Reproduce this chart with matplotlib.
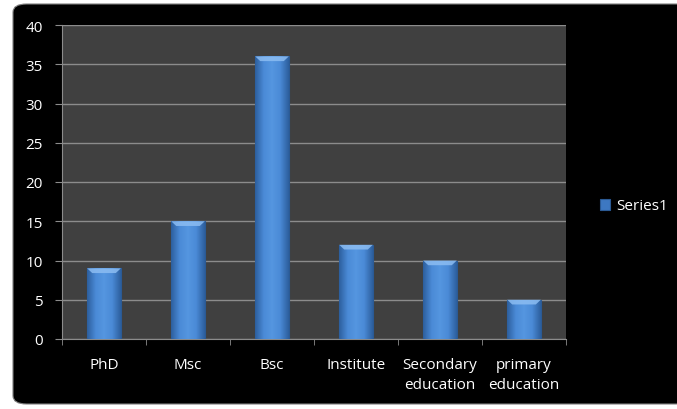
import numpy as np
import matplotlib
matplotlib.use("Agg")
import matplotlib.pyplot as plt
from matplotlib.patches import FancyBboxPatch, Polygon
from matplotlib.colors import LinearSegmentedColormap

# data
categories = ["PhD", "Msc", "Bsc", "Institute", "Secondary\neducation", "primary\neducation"]
values = [9, 15, 36, 12, 10, 5]
series_name = "Series1"

plt.rcParams['font.family'] = ['Open Sans', 'DejaVu Sans']

fig = plt.figure(figsize=(6.77, 4.10), dpi=100)
fig.patch.set_facecolor('white')

# black rounded chart frame
frame = FancyBboxPatch((13 / 677, 5 / 410), 1.0, 400 / 410,
                       boxstyle="round,pad=0,rounding_size=0.02",
                       transform=fig.transFigure, facecolor='black',
                       edgecolor='#7f7f7f', linewidth=0.8, zorder=-5)
fig.patches.append(frame)

ax = fig.add_axes([62 / 677, 70 / 410, 504 / 677, 314 / 410])
ax.set_zorder(1)
ax.set_facecolor('#404040')

x = np.arange(len(categories))
bars = ax.bar(x, values, width=0.4, color='#3d78c2', edgecolor='#2b5a94',
              linewidth=0.8, zorder=3, label=series_name)

# horizontal gradient + top bevel per bar
cmap = LinearSegmentedColormap.from_list('bar', ['#2d5f9e', '#4a8ad6', '#5596e0', '#4a8ad6', '#2d5f9e'])
grad = np.linspace(0, 1, 64).reshape(1, -1)
for b in bars:
    x0, w, h = b.get_x(), b.get_width(), b.get_height()
    im = ax.imshow(grad, cmap=cmap, extent=(x0, x0 + w, 0, h), aspect='auto',
                   zorder=3.5, origin='lower')
    im.set_clip_path(b)
    bevel = Polygon([(x0, h), (x0 + w, h), (x0 + w * 0.85, h - 0.6), (x0 + w * 0.15, h - 0.6)],
                    closed=True, facecolor='#8cbdf2', edgecolor='none', zorder=4, alpha=0.85)
    ax.add_patch(bevel)

ax.set_xlim(-0.5, len(categories) - 0.5)
ax.set_ylim(0, 40)
ax.set_yticks(range(0, 41, 5))
ax.yaxis.grid(True, color='#8c8c8c', linewidth=1.0, zorder=1)
ax.set_axisbelow(True)

ax.set_xticks(x)
ax.set_xticklabels(categories, color='white', fontsize=11, linespacing=1.45)
ax.set_xticks(np.arange(-0.5, len(categories)), minor=True)
ax.tick_params(axis='x', which='major', length=0, pad=13)
ax.tick_params(axis='x', which='minor', length=4, color='#8c8c8c', direction='out')
ax.tick_params(axis='y', length=5, color='#8c8c8c', direction='out', labelcolor='white',
               labelsize=11, pad=9)

for s in ['top', 'right']:
    ax.spines[s].set_visible(False)
ax.spines['left'].set_color('#8c8c8c')
ax.spines['bottom'].set_color('#8c8c8c')

leg = fig.legend(handles=[bars], labels=[series_name], loc='center left',
                 bbox_to_anchor=(586 / 677, 1 - 207 / 410), frameon=False,
                 handlelength=0.7, handleheight=0.7, handletextpad=0.4,
                 fontsize=11, labelcolor='white')

fig.savefig('out.png', dpi=100, facecolor=fig.get_facecolor())
